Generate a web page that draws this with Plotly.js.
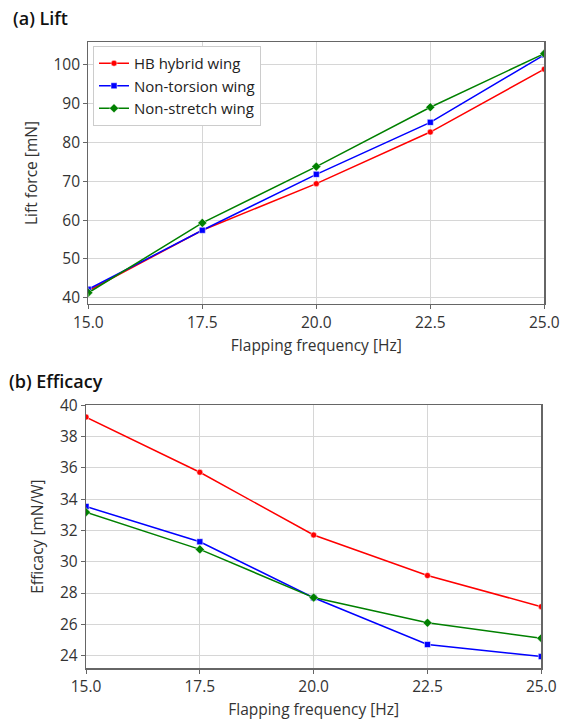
<!DOCTYPE html>
<html>
<head>
<meta charset="utf-8">
<script src="https://cdn.plot.ly/plotly-3.0.1.min.js"></script>
<style>html,body{margin:0;padding:0;background:#fff;}#chart{width:574px;height:722px;}</style>
</head>
<body>
<div id="chart"></div>
<script>
const freq = [15.0, 17.5, 20.0, 22.5, 25.0];
const xTicks = [15.0, 17.5, 20.0, 22.5, 25.0];
const xTickLabels = ["15.0", "17.5", "20.0", "22.5", "25.0"];

const liftHB = [41.8, 57.4, 69.4, 82.7, 98.9];
const liftNonTorsion = [42.2, 57.4, 71.8, 85.2, 102.6];
const liftNonStretch = [41.3, 59.3, 73.8, 89.1, 102.9];

const effHB = [39.25, 35.72, 31.71, 29.12, 27.13];
const effNonTorsion = [33.53, 31.28, 27.7, 24.71, 23.94];
const effNonStretch = [33.17, 30.79, 27.71, 26.1, 25.11];

const seriesNames = ["HB hybrid wing", "Non-torsion wing", "Non-stretch wing"];
const colors = ["#ff0000", "#0000ff", "#008000"];
const symbols = ["circle", "square", "diamond"];

const FONT = "'Open Sans', 'Noto Sans', sans-serif";

function mk(x, y, i, xa, ya, showLegend) {
  return {
    x: x, y: y, type: "scatter", mode: "lines+markers",
    name: seriesNames[i], xaxis: xa, yaxis: ya, showlegend: showLegend,
    line: {color: colors[i], width: 1.5},
    marker: {color: colors[i], symbol: symbols[i], size: symbols[i] === "diamond" ? 7 : 6,
             line: {width: 0.5, color: "#ffffff"}}
  };
}

const data = [
  mk(freq, liftHB, 0, "x", "y", true),
  mk(freq, liftNonTorsion, 1, "x", "y", true),
  mk(freq, liftNonStretch, 2, "x", "y", true),
  mk(freq, effHB, 0, "x2", "y2", false),
  mk(freq, effNonTorsion, 1, "x2", "y2", false),
  mk(freq, effNonStretch, 2, "x2", "y2", false)
];

const W = 574, H = 722;
const TF = {family: FONT, size: 15.5, color: "#333333"};
const axCommon = {
  showgrid: true, gridcolor: "#d6d6d6", gridwidth: 1,
  showline: true, linecolor: "#666666", linewidth: 1.2, mirror: true,
  ticks: "outside", ticklen: 4, tickcolor: "#666666", tickwidth: 1,
  zeroline: false, automargin: false,
  tickfont: {family: FONT, size: 15.5, color: "#333333"}
};

const layout = {
  width: W, height: H,
  margin: {l: 0, r: 0, t: 0, b: 0},
  paper_bgcolor: "#ffffff", plot_bgcolor: "#ffffff",
  font: {family: FONT, size: 15, color: "#333333"},
  xaxis: Object.assign({}, axCommon, {
    domain: [88.3 / W, 544.3 / W], range: [15, 25], anchor: "y",
    tickvals: xTicks, ticktext: xTickLabels,
    title: {text: "Flapping frequency [Hz]", font: TF, standoff: 8}
  }),
  yaxis: Object.assign({}, axCommon, {
    domain: [1 - 304 / H, 1 - 42 / H], range: [38.4, 105.9], anchor: "x",
    tickvals: [40, 50, 60, 70, 80, 90, 100],
    title: {text: "Lift force [mN]", font: TF, standoff: 12}
  }),
  xaxis2: Object.assign({}, axCommon, {
    domain: [86 / W, 541.3 / W], range: [15, 25], anchor: "y2",
    tickvals: xTicks, ticktext: xTickLabels,
    title: {text: "Flapping frequency [Hz]", font: TF, standoff: 8}
  }),
  yaxis2: Object.assign({}, axCommon, {
    domain: [1 - 668.3 / H, 1 - 405 / H], range: [23.19, 40.02], anchor: "x2",
    tickvals: [24, 26, 28, 30, 32, 34, 36, 38, 40],
    title: {text: "Efficacy [mN/W]", font: TF, standoff: 12}
  }),
  legend: {
    x: 93 / W, y: 1 - 46 / H, xanchor: "left", yanchor: "top",
    bgcolor: "#ffffff", bordercolor: "#cccccc", borderwidth: 1,
    font: {family: FONT, size: 15, color: "#222222"},
    tracegroupgap: 0, itemwidth: 30
  },
  annotations: [
    {text: "(a) Lift", xref: "paper", yref: "paper", x: 11 / W, y: 1 - 18 / H,
     xanchor: "left", yanchor: "middle", showarrow: false,
     font: {family: FONT, size: 18, color: "#111111", weight: 600}},
    {text: "(b) Efficacy", xref: "paper", yref: "paper", x: 7 / W, y: 1 - 381 / H,
     xanchor: "left", yanchor: "middle", showarrow: false,
     font: {family: FONT, size: 18, color: "#111111", weight: 600}}
  ]
};

Plotly.newPlot("chart", data, layout, {displayModeBar: false, staticPlot: true});
</script>
</body>
</html>
